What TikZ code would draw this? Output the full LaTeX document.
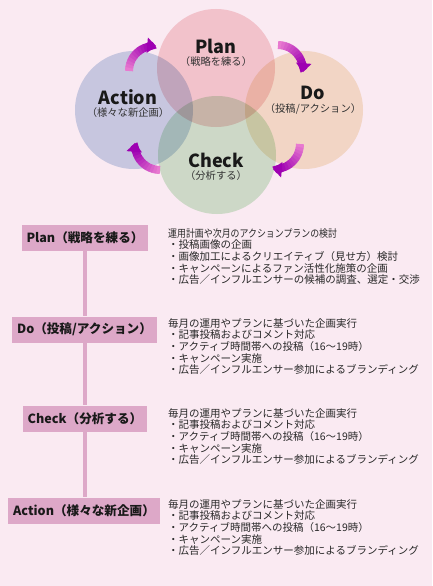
\documentclass[tikz,border=0pt]{standalone}
\usepackage{fontspec}
\setmainfont{Noto Sans CJK JP}
\usetikzlibrary{positioning, calc, arrows.meta}

\definecolor{bgpink}{RGB}{250,234,242}
\definecolor{planfill}{RGB}{247,212,214}
\definecolor{actionfill}{RGB}{203,216,236}
\definecolor{dofill}{RGB}{247,233,208}
\definecolor{checkfill}{RGB}{210,236,210}
\definecolor{arrowtail}{RGB}{232,122,208}
\definecolor{arrowend}{RGB}{158,0,178}
\definecolor{boxpink}{RGB}{221,168,200}
\definecolor{titlegray}{RGB}{25,25,25}
\definecolor{subgray}{RGB}{50,50,50}
\definecolor{bodygray}{RGB}{40,40,40}

% curved cycle arrow, colour running from tail to head
\newcommand{\cyclearrow}[3]{%
  \foreach \k in {0,...,9}{%
    \pgfmathsetmacro\aone{#2+(#3-#2)*\k/10}%
    \pgfmathsetmacro\atwo{#2+(#3-#2)*(\k+1.2)/10}%
    \pgfmathtruncatemacro\pct{\k*10}%
    \draw[arrowbody, arrowend!\pct!arrowtail] ($(#1)+(\aone:25)$) arc[start angle=\aone, end angle=\atwo, radius=25];
  }
  \draw[arrowbody, arrowend, -{Triangle[width=15pt,length=9pt]}] ($(#1)+(#3:25)$) arc[start angle=#3, end angle=#3+21, radius=25];
}

\newcommand{\runlist}{毎月の運用やプランに基づいた企画実行\\
・記事投稿およびコメント対応\\
・アクティブ時間帯への投稿（16〜19時）\\
・キャンペーン実施\\
・広告／インフルエンサー参加によるブランディング}

\begin{document}
\begin{tikzpicture}[
  x=1pt, y=-1pt,
  cycletitle/.style = {font=\fontsize{18}{18}\selectfont\bfseries, text=titlegray, inner sep=0pt},
  cyclesub/.style = {font=\fontsize{10.3}{10.3}\selectfont, text=subgray, inner sep=1pt},
  labelbox/.style = {
    fill=boxpink, text=titlegray,
    minimum height=26pt, inner xsep=5pt, inner ysep=0pt,
    font=\fontsize{12.6}{12.6}\selectfont\bfseries
  },
  bodytext/.style = {
    anchor=north west, align=left, inner sep=0pt,
    text=bodygray, font=\fontsize{10.5}{11.7}\selectfont
  },
  stemline/.style = {boxpink, line width=4pt},
  arrowbody/.style = {line width=8pt}
]

\fill[bgpink] (0,0) rectangle (432,586);
\useasboundingbox (0,0) rectangle (432,586);

% PDCA circles
\fill[actionfill, blend mode=multiply] (134,110) circle (59);
\fill[planfill, blend mode=multiply] (216,68) circle (59);
\fill[dofill, blend mode=multiply] (304,110) circle (59);
\fill[checkfill, blend mode=multiply] (217,155) circle (59);

\node[cycletitle] (plantitle) at (216,46) {Plan};
\node[cyclesub, below=2pt of plantitle] (plansub) {（戦略を練る）};
\node[cycletitle] (dotitle) at (313,93) {Do};
\node[cyclesub, below=2pt of dotitle] (dosub) {（投稿/アクション）};
\node[cycletitle] (checktitle) at (216,160) {Check};
\node[cyclesub, below=2pt of checktitle] (checksub) {（分析する）};
\node[cycletitle] (actiontitle) at (128,97) {Action};
\node[cyclesub, below=2pt of actiontitle] (actionsub) {（様々な新企画）};

% arrows between the circles
\coordinate (arrowA) at (154,71);
\coordinate (arrowB) at (278,70);
\coordinate (arrowC) at (275,144);
\coordinate (arrowD) at (160,145);
\cyclearrow{arrowA}{180}{254}
\cyclearrow{arrowB}{270}{344}
\cyclearrow{arrowC}{0}{74}
\cyclearrow{arrowD}{90}{164}

% step list
\node[labelbox] (planbox) at (85,238) {Plan（戦略を練る）};
\node[labelbox] (dobox) at (84.5,329.5) {Do（投稿/アクション）};
\node[labelbox] (checkbox) at (85,418.5) {Check（分析する）};
\node[labelbox] (actionbox) at (84,510.5) {Action（様々な新企画）};

\foreach \a/\b in {planbox/dobox, dobox/checkbox, checkbox/actionbox}
  \draw[stemline] (planbox.south |- \a.south) -- (planbox.south |- \b.north);

\node[bodytext] (plantext) at (168,228) {{\addfontfeatures{FakeStretch=0.85}運用計画や次月のアクションプランの検討}\\
・投稿画像の企画\\
・画像加工によるクリエイティブ（見せ方）検討\\
・キャンペーンによるファン活性化施策の企画\\
・広告／インフルエンサーの候補の調査、選定・交渉};
\node[bodytext] (dotext) at (168,318) {\runlist};
\node[bodytext] (checktext) at (168,408) {\runlist};
\node[bodytext] (actiontext) at (168,499) {\runlist};

\end{tikzpicture}
\end{document}
